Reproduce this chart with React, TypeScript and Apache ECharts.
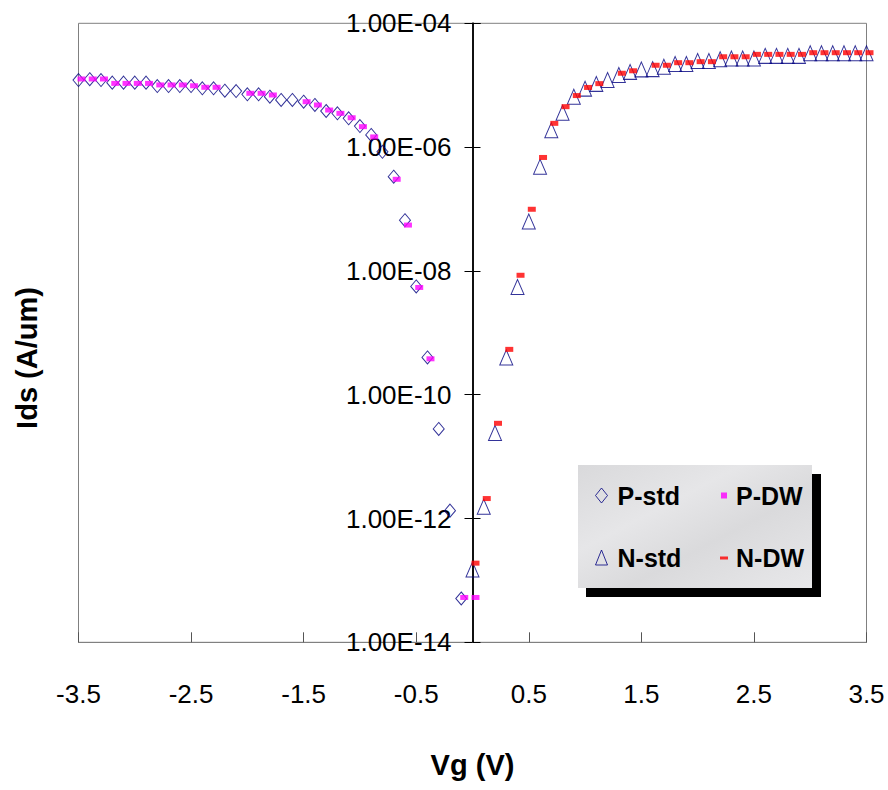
import React, { useEffect, useRef } from 'react';
import * as echarts from 'echarts';

// Gate voltage grids (V)
const vgP = [-3.5, -3.4, -3.3, -3.2, -3.1, -3.0, -2.9, -2.8, -2.7, -2.6, -2.5, -2.4, -2.3, -2.2, -2.1, -2.0, -1.9, -1.8, -1.7, -1.6, -1.5, -1.4, -1.3, -1.2, -1.1, -1.0, -0.9, -0.8, -0.7, -0.6, -0.5, -0.4, -0.3, -0.2, -0.1, 0.0];
const vgN = [0.0, 0.1, 0.2, 0.3, 0.4, 0.5, 0.6, 0.7, 0.8, 0.9, 1.0, 1.1, 1.2, 1.3, 1.4, 1.5, 1.6, 1.7, 1.8, 1.9, 2.0, 2.1, 2.2, 2.3, 2.4, 2.5, 2.6, 2.7, 2.8, 2.9, 3.0, 3.1, 3.2, 3.3, 3.4, 3.5];

// Ids (A/um)
const pStd = [1.21e-5, 1.25e-5, 1.21e-5, 1.10e-5, 1.10e-5, 1.10e-5, 1.10e-5, 9.7e-6, 9.7e-6, 9.7e-6, 9.7e-6, 8.9e-6, 8.9e-6, 8.15e-6, 8.05e-6, 7.13e-6, 7.13e-6, 6.52e-6, 5.77e-6, 5.77e-6, 5.41e-6, 4.79e-6, 3.83e-6, 3.51e-6, 2.92e-6, 2.19e-6, 1.57e-6, 8.4e-7, 3.33e-7, 6.6e-8, 5.6e-9, 4.0e-10, 2.8e-11, 1.34e-12, 5.1e-14, null];
const pDW = [1.26e-5, 1.26e-5, 1.26e-5, 1.07e-5, 1.07e-5, 1.07e-5, 1.07e-5, 1.01e-5, 1.01e-5, 1.01e-5, 9.8e-6, 9.25e-6, 9.25e-6, null, null, 7.4e-6, 7.4e-6, 6.95e-6, null, null, 5.41e-6, 4.79e-6, 3.97e-6, 3.51e-6, 2.98e-6, 2.14e-6, 1.46e-6, null, 3.02e-7, 5.5e-8, 5.4e-9, 3.8e-10, null, null, 5.3e-14, 5.3e-14];
const nStd = [1.5e-13, 1.55e-12, 2.4e-11, 4.0e-10, 5.5e-9, 6.3e-8, 4.8e-7, 1.87e-6, 3.6e-6, 6.5e-6, 8.8e-6, 1.05e-5, 1.21e-5, 1.46e-5, 1.64e-5, 1.8e-5, 1.82e-5, 1.99e-5, 2.2e-5, 2.2e-5, 2.46e-5, 2.46e-5, 2.63e-5, 2.7e-5, 2.7e-5, 2.7e-5, 2.98e-5, 2.98e-5, 2.98e-5, 2.98e-5, 3.29e-5, 3.29e-5, 3.29e-5, 3.29e-5, 3.29e-5, 3.29e-5];
const nDW = [1.9e-13, 2.1e-12, 3.45e-11, 5.4e-10, 8.5e-9, 9.9e-8, 6.8e-7, 2.42e-6, 4.5e-6, 6.8e-6, 9.2e-6, 1.06e-5, null, 1.56e-5, 1.71e-5, null, 2.1e-5, 2.1e-5, 2.31e-5, 2.31e-5, 2.4e-5, 2.4e-5, 2.88e-5, 2.88e-5, 2.88e-5, 3.15e-5, 3.15e-5, 3.15e-5, 3.15e-5, 3.15e-5, 3.35e-5, 3.35e-5, 3.35e-5, 3.35e-5, 3.35e-5, 3.35e-5];

const xTickLabels = [-3.5, -2.5, -1.5, -0.5, 0.5, 1.5, 2.5, 3.5];

const ARIAL = "'Liberation Sans', Arial, sans-serif";
const NAVY = '#000080';

const GRID_LEFT = 78.5;
const GRID_WIDTH = 788;
const X_MIN = -3.5;
const X_MAX = 3.5;
// y axis crosses the x axis at Vg = 0
const Y_AXIS_SHIFT = -((0 - X_MIN) / (X_MAX - X_MIN)) * GRID_WIDTH;

const pairs = (xs: number[], ys: (number | null)[]) =>
  xs.map((x, i) => [x, ys[i]]).filter((p) => p[1] != null);

const fmtExp = (v: number) => {
  const e = Math.round(Math.log10(v));
  const m = v / Math.pow(10, e);
  return m.toFixed(2) + 'E' + (e < 0 ? '-' : '+') + String(Math.abs(e)).padStart(2, '0');
};

export default function App() {
  const ref = useRef<HTMLDivElement>(null);
  useEffect(() => {
    if (!ref.current) return;
    const chart = echarts.init(ref.current, null, { renderer: 'svg' });
    const hollow = { color: 'rgba(0,0,0,0)', borderColor: NAVY, borderWidth: 1 };
    chart.setOption({
      animation: false,
      backgroundColor: '#ffffff',
      grid: {
        left: GRID_LEFT,
        top: 23.3,
        width: GRID_WIDTH,
        height: 619,
        show: true,
        borderColor: '#808080',
        borderWidth: 1,
        containLabel: false,
        outerBoundsMode: 'none',
      },
      xAxis: {
        type: 'value',
        min: X_MIN,
        max: X_MAX,
        name: 'Vg (V)',
        nameLocation: 'middle',
        nameGap: 108,
        nameTextStyle: { fontFamily: ARIAL, fontWeight: 'bold', fontSize: 29, color: '#000' },
        axisLine: { onZero: false, lineStyle: { color: '#808080', width: 1 } },
        axisTick: { inside: true, length: 10, lineStyle: { color: '#555' }, customValues: xTickLabels },
        axisLabel: {
          customValues: xTickLabels,
          margin: 39,
          fontFamily: ARIAL,
          fontSize: 26,
          color: '#000',
          formatter: (v: number) => String(v),
        },
        splitLine: { show: false },
      },
      yAxis: [
        {
          type: 'log',
          logBase: 100,
          min: 1e-14,
          max: 1e-4,
          position: 'left',
          offset: Y_AXIS_SHIFT,
          axisLine: { onZero: false, lineStyle: { color: '#000', width: 1.5 } },
          axisTick: { inside: false, length: 8, lineStyle: { color: '#000' } },
          axisLabel: {
            margin: 21,
            fontFamily: ARIAL,
            fontSize: 26,
            color: '#000',
            formatter: (v: number) => fmtExp(v),
          },
          splitLine: { show: false },
        },
        {
          type: 'log',
          logBase: 100,
          min: 1e-14,
          max: 1e-4,
          position: 'left',
          offset: Y_AXIS_SHIFT,
          axisLine: { onZero: false, lineStyle: { color: '#000', width: 1.5 } },
          axisTick: { inside: true, length: 8, lineStyle: { color: '#000' } },
          axisLabel: { show: false },
          splitLine: { show: false },
        },
      ],
      graphic: [
        { type: 'rect', z: 1, shape: { x: 586, y: 474, width: 235, height: 123 }, style: { fill: '#000' } },
        {
          type: 'rect',
          z: 1,
          shape: { x: 578, y: 465, width: 234, height: 123 },
          style: {
            fill: {
              type: 'linear', x: 0, y: 0, x2: 1, y2: 1,
              colorStops: [
                { offset: 0, color: '#d9d9db' },
                { offset: 0.35, color: '#e6e6e8' },
                { offset: 0.6, color: '#dadadc' },
                { offset: 1, color: '#e8e8ea' },
              ],
            },
          },
        },
        {
          type: 'text',
          z: 5,
          x: 27,
          y: 358,
          rotation: Math.PI / 2,
          style: {
            text: 'Ids (A/um)',
            fontFamily: ARIAL,
            fontWeight: 'bold',
            fontSize: 29,
            fill: '#000',
            align: 'center',
            verticalAlign: 'middle',
          },
        },
      ],
      legend: [
        {
          orient: 'vertical',
          left: 595,
          top: 483,
          padding: 0,
          itemWidth: 12,
          itemHeight: 15,
          itemGap: 37,
          selectedMode: false,
          z: 10,
          textStyle: { fontFamily: ARIAL, fontWeight: 'bold', fontSize: 25, color: '#000', padding: [0, 0, 0, 5] },
          data: [
            { name: 'P-std', icon: 'diamond', itemStyle: hollow },
            { name: 'N-std', icon: 'triangle', itemStyle: hollow },
          ],
        },
        {
          orient: 'vertical',
          left: 720,
          top: 483,
          padding: 0,
          itemWidth: 8,
          itemHeight: 8,
          itemGap: 37,
          selectedMode: false,
          z: 10,
          textStyle: { fontFamily: ARIAL, fontWeight: 'bold', fontSize: 25, color: '#000', padding: [0, 0, 0, 3] },
          data: [
            { name: 'P-DW', icon: 'path://M0,0M8,8M1,1L7,1L7,7L1,7Z', itemStyle: { color: '#ff00ff' } },
            { name: 'N-DW', icon: 'path://M0,0M8,8M0,3L8,3L8,6L0,6Z', itemStyle: { color: '#ff0000' } },
          ],
        },
      ],
      series: [
        {
          name: 'P-std',
          type: 'scatter',
          data: pairs(vgP, pStd),
          symbol: 'diamond',
          symbolSize: [11, 13],
          itemStyle: hollow,
          silent: true,
        },
        {
          name: 'N-std',
          type: 'scatter',
          data: pairs(vgN, nStd),
          symbol: 'triangle',
          symbolSize: [13, 15],
          itemStyle: hollow,
          silent: true,
        },
        {
          name: 'P-DW',
          type: 'scatter',
          data: pairs(vgP, pDW),
          symbol: 'rect',
          symbolSize: [8, 5],
          symbolOffset: [3, 0],
          itemStyle: { color: '#ff00ff' },
          silent: true,
        },
        {
          name: 'N-DW',
          type: 'scatter',
          data: pairs(vgN, nDW),
          symbol: 'rect',
          symbolSize: [8, 5],
          symbolOffset: [3, 0],
          itemStyle: { color: '#ff0000' },
          silent: true,
        },
      ],
    });
    return () => chart.dispose();
  }, []);
  return (
    <div
      ref={ref}
      style={{ position: 'absolute', left: 0, top: 0, width: 888, height: 790 }}
    />
  );
}
